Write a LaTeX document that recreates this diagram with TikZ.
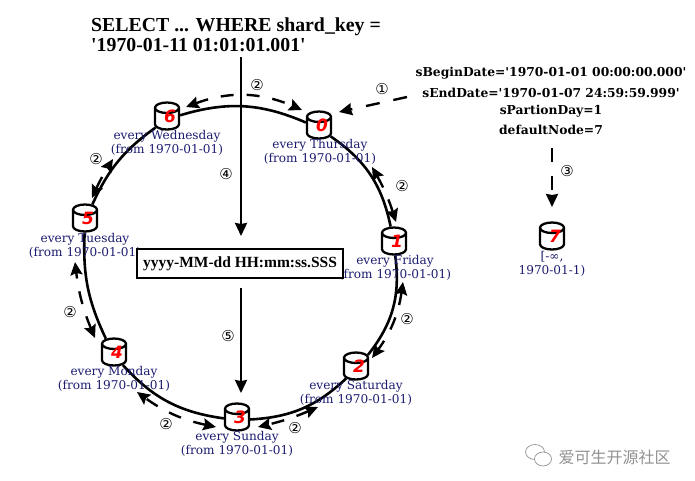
\documentclass[tikz,border=0pt]{standalone}
\usepackage{fontspec}
\setmainfont{DejaVu Serif}
\newfontfamily\dvserif{DejaVu Serif}
\newfontfamily\libserif{Liberation Serif}
\newfontfamily\dvsans{DejaVu Sans}
\newfontfamily\cjkfont{Noto Sans CJK SC}
\usetikzlibrary{arrows.meta,shapes.geometric}
\definecolor{navytext}{HTML}{1C1C70}
\definecolor{wmgray}{HTML}{929292}
\newcommand{\dbdigit}[1]{\rule[-4pt]{0pt}{8pt}\makebox[14pt]{\smash{\raisebox{-3pt}{\kern6pt #1}}}}
\tikzset{
  db/.style={cylinder,shape border rotate=90,aspect=0.75,anchor=shape center,draw=black,line width=2.3pt,fill=white,
    minimum width=24pt,minimum height=27pt,inner sep=0pt,text=red,
    font=\fontsize{17}{17}\selectfont\dvsans\bfseries\itshape},
  dblabel/.style={align=center,text=navytext,inner sep=0pt,font=\fontsize{12.1}{14}\selectfont},
  ring/.style={line width=2.6pt,draw=black},
  solidarrow/.style={line width=2.4pt,-{Stealth[length=13pt,width=12pt,inset=1pt]}},
  ringdash/.style={line width=2.4pt,dash pattern=on 13pt off 13pt,{Stealth[length=13pt,width=12pt,inset=2pt]}-{Stealth[length=13pt,width=12pt,inset=2pt]}},
  onedash/.style={line width=2.4pt,dash pattern=on 14pt off 14pt,-{Stealth[length=13pt,width=12pt,inset=1pt]}},
  step num/.style={inner sep=0pt,font=\fontsize{15}{15}\selectfont\dvsans},
  params/.style={inner sep=0pt,font=\fontsize{12.3}{14}\selectfont\dvserif\bfseries},
  query/.style={inner sep=0pt,anchor=base west,font=\fontsize{19.8}{20}\selectfont\libserif\bfseries},
}
\begin{document}
\begin{tikzpicture}[x=1pt,y=-1pt]
\useasboundingbox (0,0) rectangle (695,480);
\fill[white] (0,0) rectangle (695,480);
% database nodes
\node[db] (n0) at (319,125) {\dbdigit{0}};
\node[db] (n1) at (394,241) {\dbdigit{1}};
\node[db] (n2) at (356,366) {\dbdigit{2}};
\node[db] (n3) at (237,417) {\dbdigit{3}};
\node[db] (n4) at (114,352) {\dbdigit{4}};
\node[db] (n5) at (85,218) {\dbdigit{5}};
\node[db] (n6) at (167,116) {\dbdigit{6}};
\node[db] (n7) at (552,236) {\dbdigit{7}};
% ring
\draw[ring] (n0) to[bend left=22] (n1);
\draw[ring] (n1) to[bend left=23] (n2);
\draw[ring] (n2) to[bend left=20] (n3);
\draw[ring] (n3) to[bend left=20] (n4);
\draw[ring] (n4) to[bend left=14] (n5);
\draw[ring] (n5) to[bend left=15] (n6);
\draw[ring] (n6) to[bend left=20] (n0);
% node labels
\node[dblabel] (l0) at (320,152) {every Thursday\\(from 1970-01-01)};
\node[dblabel] (l1) at (395,268) {every Friday\\(from 1970-01-01)};
\node[dblabel] (l2) at (356,393) {every Saturday\\(from 1970-01-01)};
\node[dblabel] (l3) at (237,444) {every Sunday\\(from 1970-01-01)};
\node[dblabel] (l4) at (114,379) {every Monday\\(from 1970-01-01)};
\node[dblabel] (l5) at (85,246) {every Tuesday\\(from 1970-01-01)};
\node[dblabel] (l6) at (167,143) {every Wednesday\\(from 1970-01-01)};
\node[dblabel] (l7) at (552,263.5) {[-∞,\\1970-01-1)};
% query text
\node[query] (q1) at (91,31.5) {SELECT ... WHERE shard\_key =};
\node[query] (q2) at (91,51.5) {'1970-01-11 01:01:01.001'};
% format box
\node[draw=black,line width=2.4pt,fill=white,minimum width=206pt,minimum height=29pt,inner sep=0pt,
  font=\fontsize{15.5}{16}\selectfont\libserif\bfseries] (box) at (240,263.5) {yyyy-MM-dd HH:mm:ss.SSS};
% parameters
\node[params] (p1) at (551,73) {sBeginDate='1970-01-01 00:00:00.000'};
\node[params] (p2) at (551,93) {sEndDate='1970-01-07 24:59:59.999'};
\node[params] (p3) at (551,111) {sPartionDay=1};
\node[params] (p4) at (551,130) {defaultNode=7};
% free ends
\coordinate (qs) at (241,57);
\coordinate (be) at (241,236);
\coordinate (bs) at (241,288);
\coordinate (te) at (241,393);
\coordinate (os) at (407,97);
\coordinate (oe) at (339,112);
\coordinate (ts) at (552,148);
\coordinate (tip7) at (552,207);
\coordinate (a60) at (186,107); \coordinate (a06) at (302,110);
\coordinate (a01) at (372,167); \coordinate (a10) at (396,222);
\coordinate (a12) at (403,282); \coordinate (a21) at (372,358);
\coordinate (a23) at (318,407); \coordinate (a32) at (258,427);
\coordinate (a34) at (216,427); \coordinate (a43) at (137,392);
\coordinate (a45) at (95,338);  \coordinate (a54) at (75,262);
\coordinate (a56) at (92,198);  \coordinate (a65) at (113,159);
% solid arrows
\draw[solidarrow] (qs) -- (be);
\draw[solidarrow] (bs) -- (te);
% dashed arrows
\draw[onedash] (os) -- (oe);
\draw[onedash] (ts) -- (tip7);
\draw[ringdash] (a60) to[bend left=22] (a06);
\draw[ringdash] (a01) to[bend left=6] (a10);
\draw[ringdash] (a12) to[bend left=14] (a21);
\draw[ringdash] (a23) to[bend left=5] (a32);
\draw[ringdash] (a34) to[bend left=12] (a43);
\draw[ringdash] (a45) to[bend left=8] (a54);
\draw[ringdash] (a56) to[bend left=4] (a65);
% step numbers
\node[step num] (s1) at (382,89) {①};
\node[step num] (s3) at (567,171) {③};
\node[step num] (s4) at (226,174) {④};
\node[step num] (s5) at (228,336) {⑤};
\node[step num] (s2a) at (257,85) {②};
\node[step num] (s2b) at (402,186) {②};
\node[step num] (s2c) at (407,319) {②};
\node[step num] (s2d) at (295,428) {②};
\node[step num] (s2e) at (166,424) {②};
\node[step num] (s2f) at (70,312) {②};
\node[step num] (s2g) at (96,159) {②};
% watermark
\draw[wmgray,line width=0.7pt,fill=white] (535,452) ellipse (9.5pt and 7.5pt);
\draw[wmgray,line width=0.7pt,fill=white] (543,459) ellipse (8.5pt and 7pt);
\node[inner sep=0pt,text=wmgray,font=\fontsize{16}{16}\selectfont\cjkfont] (wm) at (614.5,457) {爱可生开源社区};
\end{tikzpicture}
\end{document}
